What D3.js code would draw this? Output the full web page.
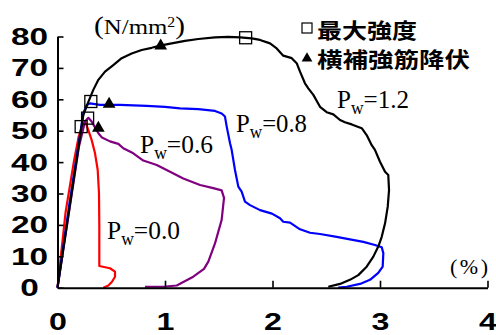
<!DOCTYPE html>
<html>
<head>
<meta charset="utf-8">
<script src="https://cdn.jsdelivr.net/npm/d3@7"></script>
<style>
  html, body { margin: 0; padding: 0; background: #fff; }
  svg { display: block; }
</style>
</head>
<body>
<svg id="chart" width="496" height="335"></svg>
<script>
// Stress (N/mm2) vs. drift (%) curves for four lateral reinforcement ratios Pw
const xTickValues = [0, 1, 2, 3, 4];
const yTickValues = [0, 10, 20, 30, 40, 50, 60, 70, 80];

// Pw = 1.2
const pw12 = [
  [0, 0], [0.12, 27.5], [0.24, 55.0], [0.287, 59.2], [0.333, 63.0], [0.38, 66.2], [0.442, 68.8],
  [0.519, 70.9], [0.597, 73.1], [0.69, 74.6], [0.783, 75.7], [0.876, 76.4], [0.953, 77.1],
  [1.062, 77.8], [1.186, 78.6], [1.31, 79.2], [1.465, 79.7], [1.589, 79.9], [1.698, 79.7],
  [1.807, 79.4], [1.884, 78.9], [1.977, 77.8], [2.039, 76.2], [2.10, 73.9], [2.179, 73.1],
  [2.225, 71.5], [2.256, 68.8], [2.302, 65.1], [2.333, 63.5], [2.38, 61.4], [2.442, 57.6],
  [2.504, 55.9], [2.566, 55.2], [2.628, 53.4], [2.674, 52.7], [2.737, 52.0], [2.83, 50.8],
  [2.876, 48.6], [2.923, 45.4], [2.953, 43.9], [3.0, 40.1], [3.047, 36.9], [3.077, 35.9],
  [3.084, 31.1], [3.072, 25.8], [3.047, 20.5], [3.016, 16.2], [2.984, 13.1], [2.938, 9.9],
  [2.876, 6.7], [2.798, 4.0], [2.72, 2.5], [2.628, 1.2], [2.519, 0.3]
];

// Pw = 0.8
const pw08 = [
  [0, 0], [0.11, 26.5], [0.2, 46.5], [0.24, 55.5], [0.272, 58.2], [0.302, 58.7], [0.395, 58.2],
  [0.581, 58.2], [0.83, 57.9], [1.0, 57.6], [1.14, 57.1], [1.31, 56.9], [1.465, 56.3],
  [1.527, 55.5], [1.558, 54.5], [1.574, 51.3], [1.605, 46.0], [1.62, 43.9], [1.651, 37.5],
  [1.682, 32.2], [1.713, 30.6], [1.744, 27.4], [1.791, 26.3], [1.884, 24.7], [1.995, 23.6],
  [2.07, 22.1], [2.10, 21.0], [2.163, 20.7], [2.256, 18.6], [2.349, 17.5], [2.442, 17.1],
  [2.597, 16.2], [2.72, 15.4], [2.845, 14.6], [2.953, 13.6], [3.016, 12.9], [3.031, 11.0],
  [3.025, 6.7], [2.984, 4.7], [2.907, 2.5], [2.814, 1.2], [2.69, 0.3], [2.612, 0]
];

// Pw = 0.6
const pw06 = [
  [0, 0], [0.1, 22.5], [0.2, 45.0], [0.256, 52.9], [0.287, 54.1], [0.318, 52.9], [0.349, 51.0],
  [0.38, 49.2], [0.414, 47.8], [0.488, 46.6], [0.566, 45.8], [0.612, 44.4], [0.705, 42.8],
  [0.798, 40.5], [0.923, 39.1], [1.047, 36.9], [1.17, 34.8], [1.326, 32.7], [1.449, 31.7],
  [1.527, 31.0], [1.549, 28.6], [1.527, 21.6], [1.465, 14.1], [1.403, 8.3], [1.363, 6.0],
  [1.263, 3.5], [1.109, 0.7], [0.984, 0.3], [0.814, 0.3]
];

// Pw = 0.0
const pw00 = [
  [0, 0], [0.075, 24.0], [0.155, 40.7], [0.197, 48.1], [0.24, 52.4], [0.262, 52.6], [0.287, 50.2],
  [0.318, 47.0], [0.349, 42.8], [0.374, 37.5], [0.386, 30.1], [0.389, 19.4], [0.389, 6.9],
  [0.488, 6.2], [0.535, 5.1], [0.535, 3.5], [0.507, 1.9], [0.473, 0.7], [0.426, 0]
];

// Maximum strength points (open squares) and hoop yield points (filled triangles)
const maxPoints = [[1.75, 79.6], [0.31, 59.3], [0.28, 54.0], [0.22, 51.3]];
const yieldPoints = [[0.96, 77.0], [0.48, 58.5], [0.38, 50.8]];

const seriesColors = ["#000000", "#0000ff", "#800080", "#ff0000"];
const seriesNames = ["1.2", "0.8", "0.6", "0.0"];
const legendLabels = ["最大強度", "横補強筋降伏"];

const svg = d3.select("#chart");
const x = d3.scaleLinear().domain([0, 4]).range([57.5, 487.5]);
const y = d3.scaleLinear().domain([0, 80]).range([287.7, 36.5]);

const sansBold = "'Liberation Sans', Arial, sans-serif";
const serif = "'Liberation Serif', 'Times New Roman', serif";
const cjk = "'Noto Sans CJK JP', sans-serif";

// Curves
const line = d3.line().x(d => x(d[0])).y(d => y(d[1]));
const curves = [pw00, pw06, pw08, pw12];
const curveColors = [seriesColors[3], seriesColors[2], seriesColors[1], seriesColors[0]];
svg.append("g").selectAll("path").data(curves).join("path")
  .attr("d", line)
  .attr("fill", "none")
  .attr("stroke", (d, i) => curveColors[i])
  .attr("stroke-width", 2.2)
  .attr("stroke-linejoin", "round");

// Axes
const xAxis = d3.axisBottom(x).tickValues(xTickValues).tickFormat(d3.format("d"))
  .tickSizeInner(-7).tickSizeOuter(0);
const yAxis = d3.axisLeft(y).tickValues(yTickValues).tickFormat(d3.format("d"))
  .tickSizeInner(-6).tickSizeOuter(0);

const gx = svg.append("g").attr("transform", `translate(0,${y(0)})`).call(xAxis);
const gy = svg.append("g").attr("transform", `translate(${x(0)},0)`).call(yAxis);

[gx, gy].forEach(g => {
  g.select(".domain").attr("stroke", "#000").attr("stroke-width", 2);
  g.selectAll(".tick line").attr("stroke", "#000").attr("stroke-width", 1.6);
  g.selectAll(".tick text")
    .attr("fill", "#000")
    .attr("font-family", sansBold)
    .attr("font-weight", "bold")
    .attr("font-size", 23);
});
gx.selectAll(".tick text")
  .attr("y", null).attr("dy", null)
  .attr("text-anchor", "middle")
  .attr("transform", "translate(0,42) scale(1.4,1)");
gy.selectAll(".tick text")
  .attr("x", null).attr("dy", null)
  .attr("text-anchor", "middle")
  .attr("transform", "translate(-28,8) scale(1.45,1)");

// Markers
svg.append("g").selectAll("rect").data(maxPoints).join("rect")
  .attr("x", d => x(d[0]) - 6).attr("y", d => y(d[1]) - 6)
  .attr("width", 12).attr("height", 12)
  .attr("fill", "none").attr("stroke", "#000").attr("stroke-width", 1.3);

const tri = d3.symbol().type(d3.symbolTriangle).size(70);
svg.append("g").selectAll("path").data(yieldPoints).join("path")
  .attr("d", tri)
  .attr("transform", d => `translate(${x(d[0])},${y(d[1])})`)
  .attr("fill", "#000");

// Unit labels
const unitY = svg.append("text")
  .attr("x", 94).attr("y", 33.5)
  .attr("font-family", serif).attr("font-size", 22).attr("fill", "#000")
  .attr("textLength", 91).attr("lengthAdjust", "spacingAndGlyphs");
unitY.append("tspan").attr("font-size", 26).text("(");
unitY.append("tspan").text("N/mm");
unitY.append("tspan").attr("font-size", 14).attr("dy", -7).text("2");
unitY.append("tspan").attr("font-size", 26).attr("dy", 7).text(")");

svg.append("text")
  .attr("x", 450).attr("y", 274)
  .attr("font-family", serif).attr("font-size", 22).attr("fill", "#000")
  .attr("textLength", 38).attr("lengthAdjust", "spacing")
  .text("(%)");

// Series labels  Pw = ...
const seriesLabelPos = [[337, 108.3, 72], [236, 132.3, 71], [140, 152.7, 73], [107, 239.3, 73]];
seriesLabelPos.forEach((p, i) => {
  const t = svg.append("text")
    .attr("x", p[0]).attr("y", p[1])
    .attr("font-family", serif).attr("font-size", 26).attr("fill", "#000")
    .attr("textLength", p[2]).attr("lengthAdjust", "spacingAndGlyphs");
  t.append("tspan").text("P");
  t.append("tspan").attr("font-size", 18).attr("dy", 6).text("w");
  t.append("tspan").attr("dy", -6).text("=" + seriesNames[i]);
});

// Legend
const lg = svg.append("g");
lg.append("rect").attr("x", 302).attr("y", 23).attr("width", 10).attr("height", 10)
  .attr("fill", "none").attr("stroke", "#000").attr("stroke-width", 1.2);
lg.append("path").attr("d", d3.symbol().type(d3.symbolTriangle).size(50))
  .attr("transform", "translate(307,58.5)").attr("fill", "#000");
lg.append("text").attr("x", 317).attr("y", 37.5)
  .attr("font-family", cjk).attr("font-weight", "bold").attr("font-size", 21)
  .attr("textLength", 100).attr("lengthAdjust", "spacingAndGlyphs")
  .text(legendLabels[0]);
lg.append("text").attr("x", 317).attr("y", 66.5)
  .attr("font-family", cjk).attr("font-weight", "bold").attr("font-size", 21)
  .attr("textLength", 153).attr("lengthAdjust", "spacingAndGlyphs")
  .text(legendLabels[1]);
</script>
</body>
</html>
